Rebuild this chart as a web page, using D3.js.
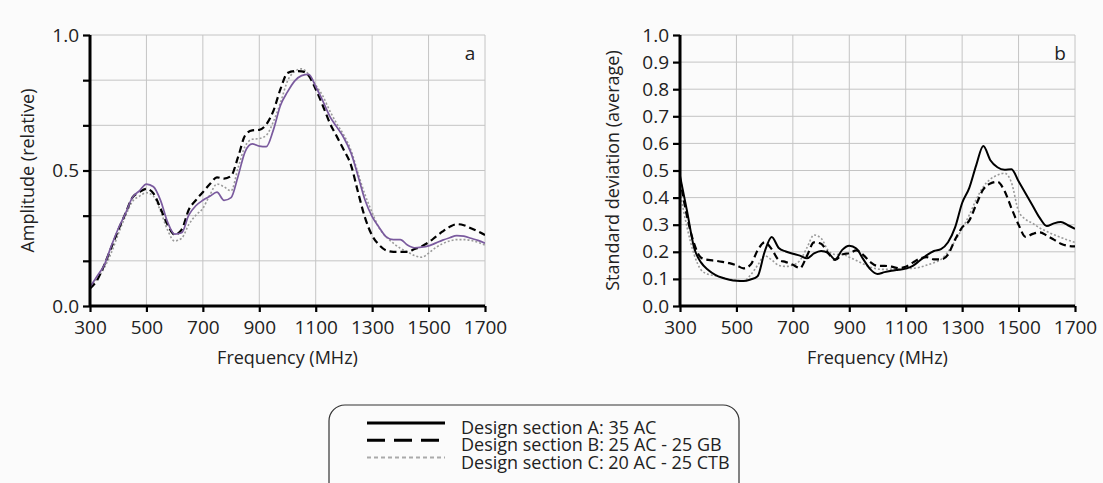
<!DOCTYPE html>
<html>
<head>
<meta charset="utf-8">
<script src="https://cdn.jsdelivr.net/npm/d3@7"></script>
<style>
html,body{margin:0;padding:0;background:#fbfbfb;}
svg{display:block;font-family:"Open Sans",sans-serif;}
</style>
</head>
<body>
<svg id="chart" width="1103" height="483"></svg>
<script>
// ---------- DATA ----------
const freqs = d3.range(300, 1701, 25); // MHz
const xTicks = [300, 500, 700, 900, 1100, 1300, 1500, 1700];
const ampTickLabels = [0, 0.5, 1.0];
const ampGrid = [0, 1/6, 2/6, 3/6, 4/6, 5/6, 1];
const sdTicks = [0, 0.1, 0.2, 0.3, 0.4, 0.5, 0.6, 0.7, 0.8, 0.9, 1.0];
const seriesNames = ["Design section A: 35 AC", "Design section B: 25 AC - 25 GB", "Design section C: 20 AC - 25 CTB"];

const ampA = [0.070,0.11,0.15,0.22,0.285,0.34,0.40,0.425,0.45,0.44,0.39,0.31,0.265,0.27,0.335,0.37,0.39,0.405,0.42,0.39,0.40,0.48,0.57,0.598,0.59,0.588,0.65,0.74,0.79,0.83,0.85,0.855,0.81,0.757,0.70,0.66,0.62,0.565,0.48,0.39,0.33,0.29,0.255,0.245,0.245,0.225,0.215,0.217,0.222,0.232,0.243,0.252,0.26,0.258,0.25,0.242,0.232];
const ampB = [0.065,0.095,0.15,0.215,0.28,0.34,0.40,0.42,0.432,0.415,0.36,0.30,0.263,0.282,0.355,0.39,0.42,0.45,0.475,0.47,0.48,0.55,0.63,0.648,0.65,0.67,0.72,0.80,0.86,0.867,0.866,0.85,0.80,0.74,0.675,0.625,0.575,0.52,0.42,0.325,0.26,0.225,0.205,0.20,0.20,0.20,0.21,0.22,0.235,0.255,0.275,0.292,0.302,0.298,0.287,0.275,0.262];
const ampC = [0.072,0.10,0.14,0.195,0.265,0.33,0.385,0.405,0.418,0.405,0.35,0.28,0.24,0.25,0.30,0.335,0.36,0.41,0.45,0.44,0.425,0.51,0.59,0.615,0.618,0.63,0.68,0.75,0.83,0.865,0.875,0.855,0.815,0.775,0.72,0.672,0.63,0.575,0.49,0.41,0.345,0.287,0.255,0.232,0.213,0.20,0.186,0.18,0.195,0.215,0.23,0.24,0.245,0.245,0.242,0.235,0.225];

const sdA = [0.48,0.35,0.215,0.16,0.133,0.115,0.104,0.097,0.093,0.092,0.098,0.11,0.20,0.255,0.214,0.201,0.193,0.186,0.176,0.194,0.203,0.196,0.172,0.207,0.222,0.212,0.172,0.135,0.118,0.125,0.13,0.134,0.138,0.148,0.168,0.188,0.203,0.21,0.235,0.29,0.38,0.435,0.52,0.59,0.538,0.512,0.503,0.505,0.46,0.415,0.37,0.325,0.295,0.305,0.31,0.298,0.285];
const sdB = [0.47,0.33,0.23,0.178,0.17,0.167,0.163,0.158,0.15,0.139,0.152,0.205,0.235,0.21,0.17,0.162,0.152,0.14,0.185,0.235,0.23,0.195,0.17,0.19,0.195,0.205,0.188,0.162,0.148,0.148,0.145,0.14,0.145,0.16,0.175,0.18,0.172,0.172,0.19,0.245,0.29,0.315,0.375,0.43,0.452,0.458,0.425,0.36,0.30,0.255,0.266,0.272,0.26,0.245,0.23,0.222,0.22];
const sdC = [0.42,0.29,0.19,0.133,0.117,0.112,0.105,0.099,0.095,0.093,0.114,0.15,0.185,0.17,0.15,0.146,0.151,0.168,0.215,0.262,0.25,0.205,0.19,0.19,0.18,0.168,0.155,0.143,0.137,0.135,0.136,0.137,0.138,0.139,0.143,0.151,0.16,0.172,0.20,0.24,0.285,0.335,0.393,0.44,0.468,0.483,0.49,0.455,0.35,0.32,0.305,0.288,0.275,0.263,0.253,0.243,0.235];

// ---------- DRAW ----------
const svg = d3.select("#chart");
const fmt = d3.format(".1f");

function panel(opts) {
  const {left, right, top, bottom, yGrid, yLabels, title, tag, series, clipId} = opts;
  const x = d3.scaleLinear().domain([300, 1700]).range([left, right]);
  const y = d3.scaleLinear().domain([0, 1]).range([bottom, top]);
  const g = svg.append("g");

  // grid
  g.append("g").selectAll("line").data(yGrid).join("line")
    .attr("x1", left).attr("x2", right)
    .attr("y1", d => y(d)).attr("y2", d => y(d))
    .attr("stroke", "#c4c4c4").attr("stroke-width", 1);
  g.append("g").selectAll("line").data(xTicks).join("line")
    .attr("x1", d => x(d)).attr("x2", d => x(d))
    .attr("y1", top).attr("y2", bottom)
    .attr("stroke", "#c4c4c4").attr("stroke-width", 1);

  // clip
  svg.append("clipPath").attr("id", clipId).append("rect")
    .attr("x", left).attr("y", top - 2).attr("width", right - left).attr("height", bottom - top + 2);

  const line = d3.line().x((d, i) => x(freqs[i])).y(d => y(d)).curve(d3.curveMonotoneX);
  const lg = g.append("g").attr("clip-path", `url(#${clipId})`);
  series.forEach(s => {
    lg.append("path").datum(s.values)
      .attr("d", line)
      .attr("fill", "none")
      .attr("stroke", s.color)
      .attr("stroke-width", s.width)
      .attr("stroke-dasharray", s.dash || null)
      .attr("stroke-linejoin", "round");
  });

  // axes
  const yAxis = d3.axisLeft(y).tickValues(yGrid).tickSize(7)
    .tickFormat(d => yLabels.some(v => Math.abs(v - d) < 1e-9) ? fmt(d) : "");
  const ya = g.append("g").attr("transform", `translate(${left},0)`).call(yAxis);
  ya.select(".domain").attr("stroke", "#000").attr("stroke-width", 3).attr("d", `M0,${top}V${bottom}`);
  ya.selectAll(".tick line").attr("stroke", "#000").attr("stroke-width", 2.2);
  ya.selectAll(".tick text").attr("font-size", 19).attr("fill", "#222").attr("x", -11).attr("font-family", "Open Sans");

  const xAxis = d3.axisBottom(x).tickValues(xTicks).tickSize(6).tickFormat(d3.format("d"));
  const xa = g.append("g").attr("transform", `translate(0,${bottom})`).call(xAxis);
  xa.select(".domain").attr("stroke", "#000").attr("stroke-width", 3).attr("d", `M${left},0H${right}`);
  xa.selectAll(".tick line").attr("stroke", "#000").attr("stroke-width", 2.2);
  xa.selectAll(".tick text").attr("font-size", 19).attr("fill", "#222").attr("y", 15).attr("font-family", "Open Sans");

  // titles
  g.append("text").attr("x", (left + right) / 2).attr("y", 364)
    .attr("text-anchor", "middle").attr("font-size", 18).attr("fill", "#222").text("Frequency (MHz)");
  g.append("text").attr("transform", `translate(${opts.yTitleX},${(top + bottom) / 2}) rotate(-90)`)
    .attr("text-anchor", "middle").attr("font-size", 18).attr("fill", "#222").text(title);
  g.append("text").attr("x", right - 15).attr("y", 60).attr("text-anchor", "middle")
    .attr("font-size", 19).attr("fill", "#222").text(tag);
}

panel({
  left: 90, right: 485, top: 35, bottom: 306,
  yGrid: ampGrid, yLabels: ampTickLabels, title: "Amplitude (relative)", tag: "a",
  yTitleX: 34, clipId: "clipA",
  series: [
    {values: ampC, color: "#9a9a9a", width: 1.6, dash: "2,2"},
    {values: ampB, color: "#000", width: 2.2, dash: "7,4"},
    {values: ampA, color: "#7a5a9e", width: 1.7}
  ]
});

panel({
  left: 680, right: 1075, top: 35, bottom: 306,
  yGrid: sdTicks, yLabels: sdTicks, title: "Standard deviation (average)", tag: "b",
  yTitleX: 619, clipId: "clipB",
  series: [
    {values: sdC, color: "#9a9a9a", width: 1.6, dash: "2,2"},
    {values: sdB, color: "#000", width: 2.2, dash: "7,4"},
    {values: sdA, color: "#000", width: 2}
  ]
});

// legend
const leg = svg.append("g");
leg.append("rect").attr("x", 329).attr("y", 405).attr("width", 410).attr("height", 100)
  .attr("rx", 16).attr("ry", 16).attr("fill", "none").attr("stroke", "#333").attr("stroke-width", 1.2);
const legStyles = [
  {color: "#000", width: 3, dash: null},
  {color: "#000", width: 3, dash: "18,9"},
  {color: "#aaa", width: 2, dash: "4,3"}
];
seriesNames.forEach((name, i) => {
  const yy = 423 + i * 17.3;
  leg.append("line").attr("x1", 367).attr("x2", 445).attr("y1", yy).attr("y2", yy)
    .attr("stroke", legStyles[i].color).attr("stroke-width", legStyles[i].width)
    .attr("stroke-dasharray", legStyles[i].dash);
  leg.append("text").attr("x", 461).attr("y", yy + 11)
    .attr("font-size", 18).attr("fill", "#222").text(name);
});
</script>
</body>
</html>
